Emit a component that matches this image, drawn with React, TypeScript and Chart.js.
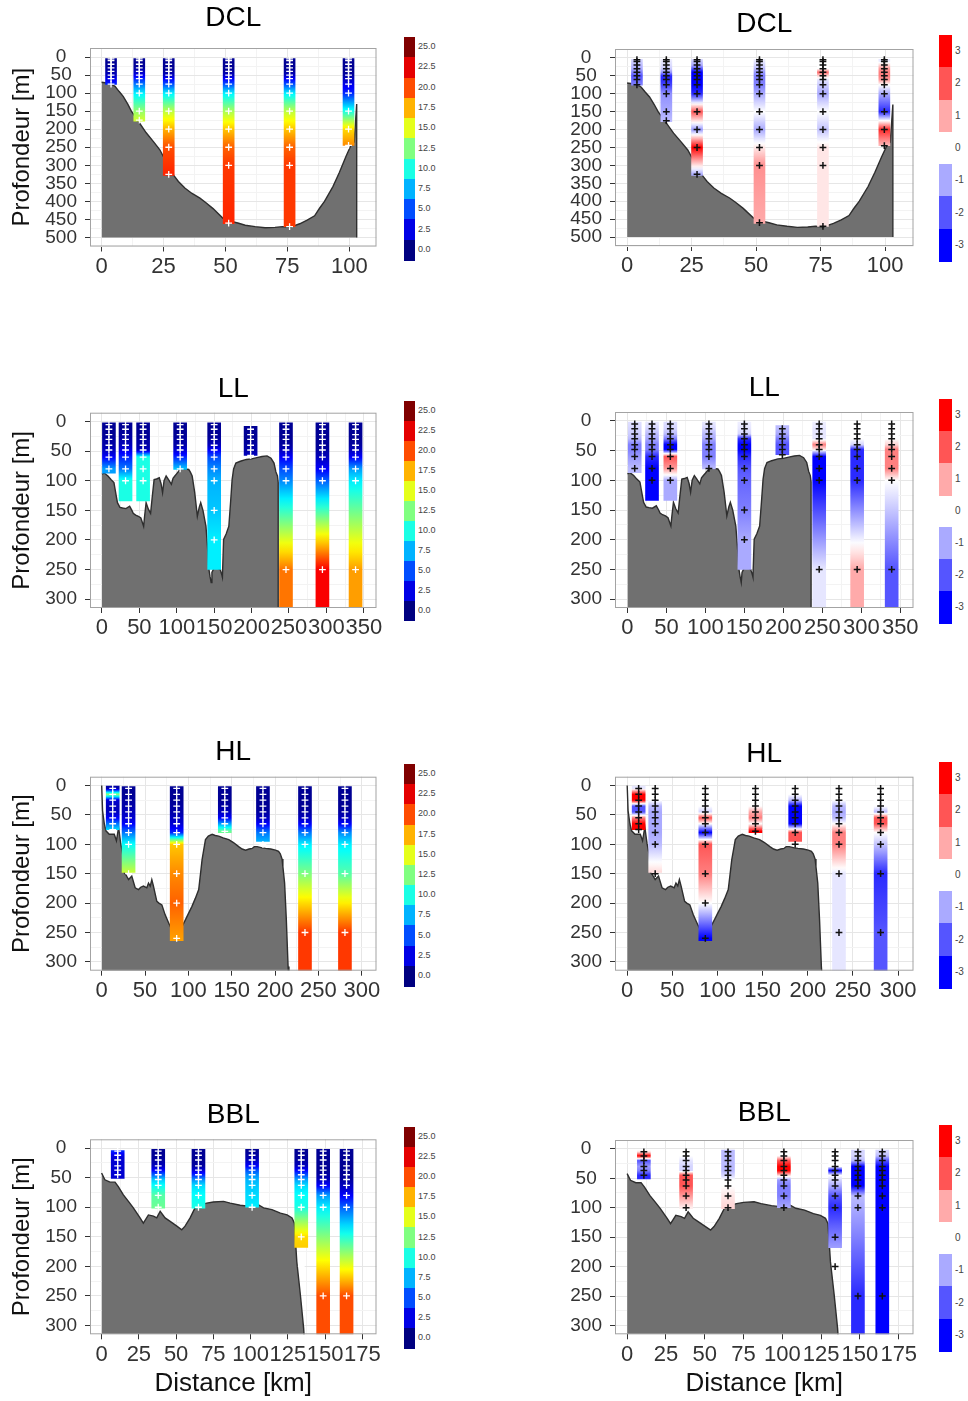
import React, { useEffect, useRef } from 'react';
import { Chart, registerables } from 'chart.js';

Chart.register(...registerables);

const FONT = '"Liberation Sans", Arial, Helvetica, sans-serif';

// ---------------- DCL ----------------
const dclStationKm = [3.8, 15.2, 27.1, 51.3, 75.9, 99.7];
const dclStationTop = [4, 4, 4, 4, 4, 4];
const dclStationBottom = [76, 178, 328, 462, 470, 245];
const dclSampleDepth = [
  [5, 10, 20, 30, 40, 50, 60, 75],
  [5, 10, 20, 30, 40, 50, 60, 75, 100, 150, 175],
  [5, 10, 20, 30, 40, 50, 60, 75, 100, 150, 200, 250, 325],
  [5, 10, 20, 30, 40, 50, 60, 75, 100, 150, 200, 250, 300, 460],
  [5, 10, 20, 30, 40, 50, 60, 75, 100, 150, 200, 250, 300, 470],
  [5, 10, 20, 30, 40, 50, 60, 75, 100, 150, 200, 245],
];
const dclValue = [
  [0.5, 0.5, 0.5, 0.8, 1, 1.5, 2.5, 4],
  [0.5, 0.5, 0.5, 0.8, 1.5, 2.5, 4, 6, 9, 13, 14.5],
  [0.5, 0.5, 0.5, 0.5, 0.8, 1.5, 3, 5, 9, 14, 17.5, 20, 21],
  [0.5, 0.5, 0.5, 0.5, 0.8, 1.5, 3, 5, 9, 13.5, 17, 19.5, 20.5, 21],
  [0.5, 0.5, 0.5, 0.5, 0.8, 1.5, 3, 5, 9, 14, 17, 19.5, 20.5, 20.5],
  [0.5, 0.5, 0.5, 0.5, 0.5, 0.8, 1.5, 2.5, 4, 10, 16.5, 18.5],
];
const dclAnomaly = [
  [-0.5, -0.6, -0.8, -1, -1.5, -2, -1.8, -1.5],
  [-0.2, -0.3, -0.4, -0.6, -1.2, -2.5, -2.5, -2.2, -1.3, -1, -0.8],
  [-0.5, -0.7, -1, -2, -3, -3, -3, -3, -2.5, 2, -1.2, 3, -1],
  [-0.2, -0.3, -0.5, -0.8, -1.2, -1.5, -1.5, -1.5, -1, 0, -1, 0.3, 1.3, 1],
  [0, 0, 0, 0, 1.8, 0.5, -0.3, -0.6, -1, 0, -0.7, 0.3, 0.3, 0.3],
  [-0.3, -0.2, 0.5, 1.2, 1.5, 1.5, 1.2, 0, -1, -2.5, 2.5, 0.8],
];
const dclBathyKm = [0, 2, 4, 5.4, 7, 8.7, 10.5, 12, 15, 18, 21, 23.5, 26, 28.9, 31, 33.6, 36.5, 39.7, 42, 45, 49, 52, 55, 58, 62, 66, 70, 73, 76, 80, 83, 86, 88, 90, 93.4, 96, 98.7, 100.8, 102, 103, 103];
const dclBathyDepth = [70, 72, 76, 81, 95, 109, 130, 150, 180, 210, 235, 257, 290, 326, 345, 363, 378, 391, 403, 420, 447, 455, 460, 466, 470, 473, 472, 470, 472, 462, 452, 440, 419, 400, 359, 320, 275, 243, 235, 130, 500];
const dclXTicks = [0, 25, 50, 75, 100];
const dclYTicks = [0, 50, 100, 150, 200, 250, 300, 350, 400, 450, 500];

// ---------------- LL ----------------
const llStationKm = [9.3, 31.5, 55, 104.5, 150, 198.7, 246, 294.7, 339];
const llStationTop = [2, 2, 2, 2, 2, 8, 2, 2, 2];
const llStationBottom = [87, 134, 134, 81, 250, 57, 315, 315, 315];
const llSampleDepth = [
  [5, 13, 22, 30, 40, 48, 60, 80],
  [5, 13, 22, 30, 40, 48, 60, 80, 100],
  [5, 13, 22, 30, 40, 48, 60, 80, 100],
  [5, 13, 22, 30, 40, 48, 60, 80],
  [5, 13, 22, 30, 40, 48, 60, 80, 100, 150, 200],
  [13, 22, 30, 40, 48, 57],
  [5, 13, 22, 30, 40, 48, 60, 80, 100, 250],
  [5, 13, 22, 30, 40, 48, 60, 80, 100, 250],
  [5, 13, 22, 30, 40, 48, 60, 80, 100, 250],
];
const llValue = [
  [0.5, 0.5, 0.5, 0.8, 1, 1.5, 3, 7],
  [0.5, 0.5, 0.8, 1, 1.5, 2.5, 4, 6, 10],
  [0.5, 0.5, 0.5, 0.8, 1, 1.5, 10, 10, 10],
  [0.5, 0.5, 0.5, 0.8, 1, 2, 4, 8],
  [0.5, 0.5, 0.5, 0.8, 1.5, 3, 5, 6.5, 7.5, 8, 9],
  [0.5, 0.5, 0.5, 0.8, 1, 1.5],
  [0.5, 0.5, 0.5, 0.5, 0.8, 1.5, 3, 5, 6.5, 19],
  [0.5, 0.5, 0.5, 0.5, 0.5, 0.8, 1.5, 3, 5.5, 22],
  [0.5, 0.5, 0.5, 0.5, 0.8, 1.5, 3, 7, 9, 18],
];
const llAnomaly = [
  [-0.4, -0.5, -0.6, -0.8, -1.5, -1.5, -1.2, -0.8],
  [-0.3, -0.5, -0.8, -1, -1.5, -1.5, -2.5, -3, -3],
  [-0.4, -0.5, -0.8, -1.5, -3, -3, 2, 1.2, -1],
  [-0.3, -0.5, -0.8, -1, -1.5, -1.5, -1.5, -0.8],
  [-0.2, -0.3, -0.5, -2.5, -3, -3, -2.5, -2, -1.8, -1.5, -1],
  [-0.8, -1, -1.5, -2, -2, -2],
  [-0.2, -0.3, -0.3, -0.3, 1.5, 0.3, -3, -3, -3, -0.3],
  [0, 0, 0, 0, -0.5, -2.5, -2.5, -2.5, -2.5, 1],
  [0, 0, 0, 0, 0.5, 1.5, 1.5, 1.5, 0, -2],
];
const llBathyKm = [0, 3, 8, 12, 16, 19, 20.7, 24, 27.6, 32, 37, 40, 41.8, 45, 48.7, 52, 55.7, 57, 59, 62, 65, 67, 69.7, 73, 76.6, 79, 81, 83, 85.8, 89, 92.8, 95, 97.4, 100, 104.4, 110, 116, 118, 120.6, 124, 127.5, 130, 132, 135, 139, 141, 143, 144.5, 146, 147, 150, 155, 158, 160, 161, 162.6, 166, 169.6, 172, 174, 176, 179, 185, 193, 200, 207, 214, 220.7, 226, 230, 232.5, 234.6, 235.6, 235.6];
const llBathyDepth = [89, 87, 92, 98, 103, 125, 137, 145, 146, 147, 143, 150, 155, 158, 160, 163, 177, 160, 137, 148, 155, 130, 98, 97, 95, 105, 120, 100, 92, 98, 106, 96, 92, 88, 81, 80, 81, 85, 92, 120, 160, 145, 137, 150, 177, 210, 250, 262, 272, 255, 247, 248, 250, 258, 263, 199, 190, 177, 135, 98, 80, 70, 67, 64, 63, 61, 59, 58, 62, 70, 85, 92, 103, 330];
const llXTicks = [0, 50, 100, 150, 200, 250, 300, 350];

// ---------------- HL ----------------
const hlStationKm = [12.7, 31, 86.5, 142, 186, 234.5, 280.6];
const hlStationTop = [0, 2, 2, 2, 2, 2, 2];
const hlStationBottom = [75, 148, 264, 80, 95, 315, 315];
const hlSampleDepth = [
  [5, 15, 25, 35, 45, 55, 65, 75],
  [5, 15, 25, 35, 45, 55, 65, 80, 100, 150],
  [5, 15, 25, 35, 45, 55, 65, 80, 100, 150, 200, 260],
  [5, 15, 25, 35, 45, 55, 65, 78],
  [5, 15, 25, 35, 45, 55, 65, 80, 100],
  [5, 15, 25, 35, 45, 55, 65, 80, 100, 150, 250],
  [5, 15, 25, 35, 45, 55, 65, 80, 100, 150, 250],
];
const hlValue = [
  [1, 13, 2, 1.5, 1.5, 3, 6, 8.5],
  [0.5, 0.5, 0.8, 1, 1.5, 2, 3, 6, 9.5, 14.5],
  [0.5, 0.5, 0.5, 0.8, 1, 1.5, 2, 4, 17, 18.5, 19.5, 18],
  [0.5, 0.5, 0.5, 0.8, 1.5, 3, 7, 12],
  [0.5, 0.5, 0.5, 0.5, 0.8, 1.5, 3, 6, 8],
  [0.5, 0.5, 0.5, 0.5, 0.8, 1.5, 3, 6, 9, 12.5, 20.5],
  [0.5, 0.5, 0.5, 0.5, 0.8, 1.5, 3, 6.5, 9, 11.5, 20.5],
];
const hlAnomaly = [
  [-0.3, 3, 3, -2, -2, 1.5, 3, 3],
  [0, 0, 0, -0.8, -1, -1, -1, -1, -0.8, 0.5],
  [0, 0, 0, 0, -0.5, 2, 0, -3, 2, 1.5, 0, -3],
  [0, 0, 0, 0, 1, 1.5, 0, 3],
  [0, 0, -0.8, -3, -3, -3, -3, 2, 2],
  [0, 0, 0, -0.8, -1, -0.8, 0, 1.5, 1.5, -0.3, -0.3],
  [0, 0, 0, 0, -0.8, 2, 2, 0, -0.7, -2.5, -2],
];
const hlBathyKm = [0, 1, 3, 4.9, 8.7, 14.5, 17, 19.5, 22, 24, 26.3, 28, 31, 34.7, 38.6, 42.4, 45, 48.2, 52, 54, 56, 57.8, 59.7, 63.6, 66, 69.4, 73.2, 77, 81, 84, 86.7, 90.6, 96.4, 100, 104, 108, 111.9, 114, 115.8, 119.7, 123, 127.4, 131, 135, 140, 146.6, 152, 158, 162, 166, 170, 173.6, 176, 179.4, 185, 189, 195, 200.5, 204, 206, 208, 209, 211, 213, 215, 216];
const hlBathyDepth = [0, 43, 65, 77, 83, 83, 94, 71, 99, 115, 149, 152, 160, 154, 174, 177, 173, 171, 174, 166, 171, 160, 171, 197, 200, 203, 220, 233, 246, 256, 263, 246, 229, 218, 206, 192, 177, 150, 126, 92, 86, 83, 85, 86, 89, 92, 97, 104, 108, 110, 108, 107, 104, 104, 106, 107, 108, 110, 112, 116, 125, 138, 166, 229, 308, 330];
const hlXTicks = [0, 50, 100, 150, 200, 250, 300];

// ---------------- BBL ----------------
const bblStationKm = [10.8, 38, 65, 101, 134, 148.7, 164.4];
const bblStationTop = [4, 2, 2, 2, 2, 2, 2];
const bblStationBottom = [51, 101.5, 101.5, 100, 168, 315, 315];
const bblSampleDepth = [
  [5, 12, 20, 30, 37, 45],
  [5, 12, 20, 30, 37, 45, 53, 63, 80, 100],
  [5, 12, 20, 30, 37, 45, 53, 63, 80, 100],
  [5, 12, 20, 30, 37, 45, 53, 63, 80, 100],
  [5, 12, 20, 30, 37, 45, 53, 63, 80, 100, 150, 200],
  [5, 12, 20, 30, 37, 45, 53, 63, 80, 100, 250],
  [5, 12, 20, 30, 37, 45, 53, 63, 80, 100, 250],
];
const bblValue = [
  [4, 2.5, 2, 2, 2, 2],
  [0.5, 0.5, 0.8, 1.5, 3, 5.5, 8, 9.5, 11.5, 12],
  [0.5, 0.5, 0.5, 0.8, 2, 4, 6.5, 8.5, 9.5, 10],
  [0.5, 0.8, 1.5, 3, 5, 6.5, 7.5, 8, 8.5, 9],
  [0.5, 0.5, 0.8, 1.5, 3, 5, 7, 8.5, 9.5, 10, 16.5, 17.5],
  [0.5, 0.5, 0.5, 0.5, 0.5, 0.8, 1.5, 3, 7, 9, 20],
  [0.5, 0.5, 0.5, 0.5, 0.5, 0.5, 0.8, 1.5, 3, 5.5, 20],
];
const bblAnomaly = [
  [0.3, 3, -2, -1.2, -1.5, -2.5],
  [0, 0, -0.3, -0.5, -0.5, 2, 2, 2, 1.2, 0.2],
  [-0.8, -0.8, -0.8, -0.8, -0.8, -0.5, 0, 0, 0.3, 0.5],
  [0, 0, 2, 3, 3, 0.5, -1.2, -1.5, -1.5, -1],
  [0, 0, 0, 0, -3, 0, -0.5, -1, -2, -2.5, -1.5, -0.5],
  [-0.5, -0.5, -0.8, -3, -3, -3, -3, -3, -0.8, -1, -2.5],
  [-0.5, -0.8, -2, -3, -3, -3, -3, -3, -3, -3, -3],
];
const bblBathyKm = [0, 2.2, 5.6, 9, 11.2, 14.6, 18, 21.3, 25.8, 28, 31.4, 34.8, 37, 39.3, 42.6, 46, 50.5, 53.8, 56, 59.4, 62.7, 66, 70.6, 75, 81.8, 86.3, 93, 99.8, 104.3, 108.7, 114.3, 120, 124.5, 127.8, 129.4, 131, 133.4, 135.6, 136.2];
const bblBathyDepth = [42, 53.5, 57.5, 57.5, 65, 79, 90, 101, 118, 127, 113, 115, 118, 107, 118, 124, 132, 138, 132, 118, 101, 96, 93, 91, 90, 93, 96.5, 98.5, 94.5, 101, 104, 110, 113, 118, 127, 192, 248, 305, 330];
const bblXTicks = [0, 25, 50, 75, 100, 125, 150, 175];

const shallowYTicks = [0, 50, 100, 150, 200, 250, 300];

// legends
const valueLegend = [25, 22.5, 20, 17.5, 15, 12.5, 10, 7.5, 5, 2.5, 0];
const anomalyLegend = [3, 2, 1, 0, -1, -2, -3];

// ---------------- colour scales ----------------
function jet(v: number): string {
  const t = Math.max(0, Math.min(1, v / 25));
  const c = (x: number) => Math.round(255 * Math.max(0, Math.min(1, x)));
  return `rgb(${c(1.5 - Math.abs(4 * t - 3))},${c(1.5 - Math.abs(4 * t - 2))},${c(1.5 - Math.abs(4 * t - 1))})`;
}
function diverging(v: number): string {
  const t = Math.max(0, Math.min(1, Math.abs(v) / 3));
  const w = Math.round(255 * (1 - t));
  return v >= 0 ? `rgb(255,${w},${w})` : `rgb(${w},${w},255)`;
}

type Section = {
  title: string;
  km: number[]; top: number[]; bottom: number[]; depth: number[][];
  value: number[][]; anomaly: number[][];
  bathyKm: number[]; bathyDepth: number[]; floor: number;
  xMin: number; xMax: number; yMin: number; yMax: number;
  xTicks: number[]; yTicks: number[]; xMinor: number; yMinor: number; barPx: number;
};

const DCL: Section = {
  title: 'DCL', km: dclStationKm, top: dclStationTop, bottom: dclStationBottom, depth: dclSampleDepth,
  value: dclValue, anomaly: dclAnomaly, bathyKm: dclBathyKm, bathyDepth: dclBathyDepth, floor: 500,
  xMin: -4.7, xMax: 111, yMin: -25, yMax: 525, xTicks: dclXTicks, yTicks: dclYTicks, xMinor: 12.5, yMinor: 25, barPx: 11,
};
const LL: Section = {
  title: 'LL', km: llStationKm, top: llStationTop, bottom: llStationBottom, depth: llSampleDepth,
  value: llValue, anomaly: llAnomaly, bathyKm: llBathyKm, bathyDepth: llBathyDepth, floor: 330,
  xMin: -16, xMax: 367, yMin: -15, yMax: 315, xTicks: llXTicks, yTicks: shallowYTicks, xMinor: 25, yMinor: 25, barPx: 13,
};
const HL: Section = {
  title: 'HL', km: hlStationKm, top: hlStationTop, bottom: hlStationBottom, depth: hlSampleDepth,
  value: hlValue, anomaly: hlAnomaly, bathyKm: hlBathyKm, bathyDepth: hlBathyDepth, floor: 330,
  xMin: -13.5, xMax: 317, yMin: -15, yMax: 315, xTicks: hlXTicks, yTicks: shallowYTicks, xMinor: 25, yMinor: 25, barPx: 13,
};
const BBL: Section = {
  title: 'BBL', km: bblStationKm, top: bblStationTop, bottom: bblStationBottom, depth: bblSampleDepth,
  value: bblValue, anomaly: bblAnomaly, bathyKm: bblBathyKm, bathyDepth: bblBathyDepth, floor: 330,
  xMin: -7.8, xMax: 184.5, yMin: -15, yMax: 315, xTicks: bblXTicks, yTicks: shallowYTicks, xMinor: 12.5, yMinor: 25, barPx: 13,
};

// page layout (pixels)
type Box = { titleY: number; top: number; bottom: number };
const COLS = [
  { canvasLeft: 0, boxLeft: 90, boxRight: 376.5, legendX: 404 },
  { canvasLeft: 560, boxLeft: 615, boxRight: 913.5, legendX: 939 },
];
const ROWS: { s: Section; boxes: Box[]; xTitleBottom?: number; legend: number[][] }[] = [
  { s: DCL, boxes: [{ titleY: 18.3, top: 48, bottom: 246.5 }, { titleY: 24, top: 49, bottom: 246 }], legend: [[37, 260], [35, 261]] },
  { s: LL, boxes: [{ titleY: 389, top: 412.7, bottom: 608 }, { titleY: 388, top: 412, bottom: 608 }], legend: [[400.7, 620.7], [399, 623]] },
  { s: HL, boxes: [{ titleY: 752.5, top: 776.7, bottom: 970.7 }, { titleY: 754, top: 776.7, bottom: 970.7 }], legend: [[764, 986], [762, 988]] },
  { s: BBL, boxes: [{ titleY: 1115, top: 1139.3, bottom: 1334.3 }, { titleY: 1113, top: 1140, bottom: 1334.3 }], xTitleBottom: 1398.6, legend: [[1127, 1348], [1125, 1351]] },
];

function stepTicks(min: number, max: number, step: number): number[] {
  const out: number[] = [];
  for (let v = Math.ceil(min / step) * step; v <= max + 1e-6; v += step) out.push(Math.round(v * 1000) / 1000);
  return out;
}

function profileGradient(chart: any, s: Section, i: number, vals: number[][], colorFn: (v: number) => string) {
  const y = chart.scales.y;
  const ds = s.depth[i];
  const vs = vals[i];
  const d0 = Math.min(s.top[i], ds[0]);
  const d1 = Math.max(s.bottom[i], ds[ds.length - 1]);
  const p0 = y.getPixelForValue(d0);
  const p1 = y.getPixelForValue(d1);
  const span = p1 - p0 || 1;
  const g = chart.ctx.createLinearGradient(0, p0, 0, p1);
  const stop = (d: number, v: number) => {
    const o = (y.getPixelForValue(d) - p0) / span;
    g.addColorStop(Math.max(0, Math.min(1, o)), colorFn(v));
  };
  stop(d0, vs[0]);
  for (let k = 0; k < ds.length; k++) {
    stop(ds[k], vs[k]);
    if (k < ds.length - 1) {
      for (let j = 1; j < 10; j++) {
        const f = j / 10;
        stop(ds[k] + (ds[k + 1] - ds[k]) * f, vs[k] + (vs[k + 1] - vs[k]) * f);
      }
    }
  }
  stop(d1, vs[vs.length - 1]);
  return g;
}

const framePlugin = {
  id: 'panelFrame',
  afterDraw(chart: any) {
    const { ctx, chartArea: a } = chart;
    ctx.save();
    ctx.strokeStyle = '#a3a3a3';
    ctx.lineWidth = 1;
    ctx.strokeRect(a.left + 0.5, a.top + 0.5, a.right - a.left - 1, a.bottom - a.top - 1);
    ctx.restore();
  },
};

function Panel({ s, box, col, anomaly, xTitleBottom }: { s: Section; box: Box; col: number; anomaly: boolean; xTitleBottom?: number }) {
  const ref = useRef<HTMLCanvasElement>(null);
  const c = COLS[col];
  const canvasTop = Math.round(box.titleY - 18);
  const canvasW = Math.ceil(c.boxRight + 16 - c.canvasLeft);
  const padRight = c.canvasLeft + canvasW - c.boxRight;
  const yAxisW = c.boxLeft - c.canvasLeft;
  const bottomEdge = xTitleBottom ?? box.bottom + 45;
  const canvasH = Math.round(bottomEdge - canvasTop);
  const xAxisH = canvasTop + canvasH - box.bottom;
  const titlePadTop = box.titleY - canvasTop - 16.8;
  const titlePadBottom = box.top - canvasTop - 33.6 - titlePadTop;

  useEffect(() => {
    const vals = anomaly ? s.anomaly : s.value;
    const colorFn = anomaly ? diverging : jet;
    const xMajor = new Set(s.xTicks);
    const yMajor = new Set(s.yTicks);
    const xAll = stepTicks(s.xMin, s.xMax, s.xMinor);
    const yAll = stepTicks(s.yMin, s.yMax, s.yMinor);
    const markers: { x: number; y: number }[] = [];
    s.km.forEach((k, i) => s.depth[i].forEach((d) => markers.push({ x: k, y: d })));

    const chart = new Chart(ref.current as HTMLCanvasElement, {
      type: 'bar',
      data: {
        datasets: [
          {
            type: 'scatter',
            data: markers,
            showLine: false,
            pointStyle: 'cross',
            pointRadius: 3.4,
            pointHoverRadius: 3.4,
            pointBorderWidth: anomaly ? 1.5 : 1.3,
            pointBorderColor: anomaly ? '#111111' : '#ffffff',
            pointBackgroundColor: anomaly ? '#111111' : '#ffffff',
            order: 0,
          } as any,
          {
            type: 'bar',
            data: s.km.map((k, i) => ({ x: k, y: [s.top[i], s.bottom[i]] })),
            barThickness: s.barPx,
            borderWidth: 0,
            backgroundColor: (ctx: any) => {
              if (ctx.type !== 'data' || !ctx.chart.chartArea) return 'rgba(0,0,0,0)';
              return profileGradient(ctx.chart, s, ctx.dataIndex, vals, colorFn);
            },
            clip: 0,
            order: 1,
          } as any,
          {
            type: 'line',
            data: s.bathyKm.map((k, i) => ({ x: k, y: s.bathyDepth[i] })),
            borderColor: '#2e2e2e',
            borderWidth: 1.4,
            backgroundColor: '#707070',
            fill: { value: s.floor },
            pointRadius: 0,
            tension: 0,
            clip: 0,
            order: 2,
          } as any,
        ],
      },
      options: {
        responsive: false,
        maintainAspectRatio: false,
        animation: false,
        events: [],
        layout: { padding: { left: 0, right: padRight, top: 0, bottom: 0 } },
        plugins: {
          legend: { display: false },
          tooltip: { enabled: false },
          title: {
            display: true,
            text: s.title,
            fullSize: false,
            color: '#000',
            font: { family: FONT, size: 28, weight: 'normal' as any },
            padding: { top: titlePadTop, bottom: titlePadBottom },
          },
        },
        scales: {
          x: {
            type: 'linear',
            offset: false,
            min: s.xMin,
            max: s.xMax,
            afterBuildTicks: (sc: any) => { sc.ticks = xAll.map((v) => ({ value: v })); },
            afterFit: (sc: any) => { sc.height = xAxisH; },
            ticks: {
              autoSkip: false,
              maxRotation: 0,
              minRotation: 0,
              padding: 2,
              color: '#333',
              font: { family: FONT, size: 22 },
              callback: (v: any) => (xMajor.has(Number(v)) ? String(v) : ''),
            },
            grid: {
              offset: false,
              color: (ctx: any) => (ctx.tick && xMajor.has(ctx.tick.value) ? '#e6e6e6' : '#f3f3f3'),
              tickColor: (ctx: any) => (ctx.tick && xMajor.has(ctx.tick.value) ? '#333' : 'rgba(0,0,0,0)'),
              tickLength: 5,
              lineWidth: 1,
            },
            border: { display: false },
            title: {
              display: xTitleBottom !== undefined,
              text: 'Distance [km]',
              color: '#111',
              font: { family: FONT, size: 26 },
              padding: { top: 0, bottom: 0 },
            },
          },
          y: {
            type: 'linear',
            reverse: true,
            offset: false,
            min: s.yMin,
            max: s.yMax,
            afterBuildTicks: (sc: any) => { sc.ticks = yAll.map((v) => ({ value: v })); },
            afterFit: (sc: any) => { sc.width = yAxisW; },
            ticks: {
              autoSkip: false,
              crossAlign: 'center',
              padding: 8,
              color: '#333',
              font: { family: FONT, size: 19 },
              callback: (v: any) => (yMajor.has(Number(v)) ? String(v) : ''),
            },
            grid: {
              offset: false,
              color: (ctx: any) => (ctx.tick && yMajor.has(ctx.tick.value) ? '#e6e6e6' : '#f3f3f3'),
              tickColor: (ctx: any) => (ctx.tick && yMajor.has(ctx.tick.value) ? '#333' : 'rgba(0,0,0,0)'),
              tickLength: 5,
              lineWidth: 1,
            },
            border: { display: false },
            title: {
              display: col === 0,
              text: 'Profondeur [m]',
              color: '#111',
              font: { family: FONT, size: 24 },
              padding: { top: 7.6, bottom: 0 },
            },
          },
        },
      } as any,
      plugins: [framePlugin],
    });
    return () => chart.destroy();
  }, []);

  return (
    <canvas
      ref={ref}
      width={canvasW}
      height={canvasH}
      style={{ position: 'absolute', left: c.canvasLeft, top: canvasTop, width: canvasW, height: canvasH }}
    />
  );
}

function ValueLegend({ top, bottom, x }: { top: number; bottom: number; x: number }) {
  const h = (bottom - top) / valueLegend.length;
  return (
    <>
      {valueLegend.map((v, i) => (
        <React.Fragment key={i}>
          <div style={{ position: 'absolute', left: x, top: top + i * h, width: 11, height: h + 0.6, background: jet(v) }} />
          <div style={{ position: 'absolute', left: x + 14, top: top + i * h + h / 2 - 6, height: 12, lineHeight: '12px', font: `9px ${FONT}`, color: '#444', whiteSpace: 'nowrap' }}>
            {v.toFixed(1)}
          </div>
        </React.Fragment>
      ))}
    </>
  );
}

function AnomalyLegend({ top, bottom, x }: { top: number; bottom: number; x: number }) {
  const h = (bottom - top) / anomalyLegend.length;
  return (
    <>
      {anomalyLegend.map((v, i) => (
        <React.Fragment key={i}>
          {v !== 0 && (
            <div style={{ position: 'absolute', left: x, top: top + i * h, width: 13, height: h + 0.6, background: diverging(v) }} />
          )}
          <div style={{ position: 'absolute', left: x + 16, top: top + i * h + h / 2 - 6, height: 12, lineHeight: '12px', font: `10px ${FONT}`, color: '#444', whiteSpace: 'nowrap' }}>
            {String(v)}
          </div>
        </React.Fragment>
      ))}
    </>
  );
}

export default function App() {
  return (
    <div style={{ position: 'absolute', left: 0, top: 0, width: 968, height: 1401, overflow: 'hidden', background: '#ffffff' }}>
      {ROWS.map((r, i) => (
        <React.Fragment key={i}>
          <Panel s={r.s} box={r.boxes[0]} col={0} anomaly={false} xTitleBottom={r.xTitleBottom} />
          <Panel s={r.s} box={r.boxes[1]} col={1} anomaly={true} xTitleBottom={r.xTitleBottom} />
          <ValueLegend top={r.legend[0][0]} bottom={r.legend[0][1]} x={COLS[0].legendX} />
          <AnomalyLegend top={r.legend[1][0]} bottom={r.legend[1][1]} x={COLS[1].legendX} />
        </React.Fragment>
      ))}
    </div>
  );
}
